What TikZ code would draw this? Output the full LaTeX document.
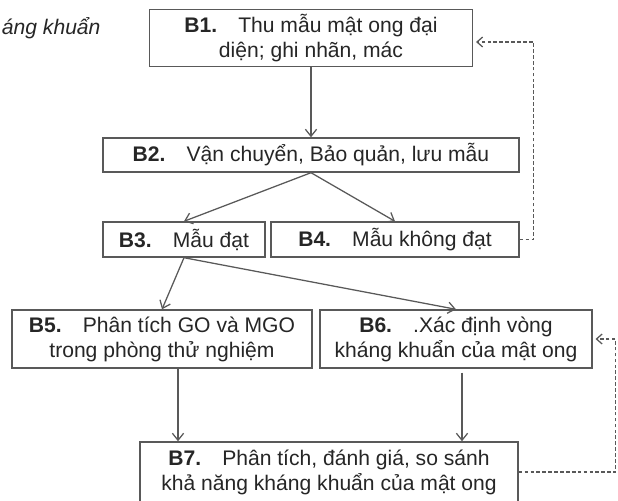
\documentclass[tikz,border=0pt]{standalone}
\usepackage{fontspec}
\setmainfont{Liberation Sans}
\usetikzlibrary{calc,arrows.meta}
\tikzset{
  buoc/.style={draw=black!65, line width=1pt, fill=white, align=center, text=black!85,
    inner sep=0pt, font=\fontsize{15}{17.8}\selectfont},
  muiten/.style={draw=black!65, line width=0.9pt, -{Straight Barb[length=5pt,width=8pt]}},
  vonglai/.style={draw=black!65, line width=0.9pt, dash pattern=on 2.6pt off 1.6pt,
    -{Straight Barb[length=4pt,width=7pt]}, shorten >=2pt}
}
\newcommand{\bb}[1]{\textbf{#1}\quad}

\begin{document}
\begin{tikzpicture}[x=0.025cm, y=-0.025cm]
\useasboundingbox (0,0) rectangle (618,500);
\node[anchor=west, text=black!85, font=\fontsize{15}{18}\selectfont\itshape] (tieude) at (-3,28) {áng khuẩn};
\node[buoc, minimum width=323*0.025cm, minimum height=57*0.025cm] (b1) at (311,38) {\bb{B1.}Thu mẫu mật ong đại\\diện; ghi nhãn,\ mác};
\node[buoc, minimum width=416*0.025cm, minimum height=34*0.025cm] (b2) at (311,155) {\bb{B2.}Vận chuyển, Bảo quản, lưu mẫu};
\node[buoc, minimum width=162*0.025cm, minimum height=35*0.025cm] (b3) at (184,239.5) {\bb{B3.}Mẫu đạt};
\node[buoc, minimum width=248*0.025cm, minimum height=35*0.025cm] (b4) at (395,239.5) {\bb{B4.}Mẫu không đạt};
\node[buoc, minimum width=300*0.025cm, minimum height=58*0.025cm] (b5) at (162,339) {\bb{B5.}Phân tích GO và MGO\\trong phòng thử nghiệm};
\node[buoc, minimum width=272*0.025cm, minimum height=58*0.025cm] (b6) at (456,339) {\bb{B6.}.Xác định vòng\\kháng khuẩn\ của mật ong};
\node[buoc, minimum width=378*0.025cm, minimum height=60*0.025cm] (b7) at (329,472) {\bb{B7.}Phân tích, đánh giá, so sánh\\khả năng kháng khuẩn\ của mật ong};

\draw[muiten] (b1) -- (b2);
\draw[muiten] (b2.south) -- (b3.north);
\draw[muiten] (b2.south) -- (b4.north);
\draw[muiten] (b3.south) -- (b5.north);
\draw[muiten] (b3.south) -- (b6.north);
\draw[muiten] ([xshift=0.4cm]b5.south) -- ([xshift=0.4cm]b5.south |- b7.north);
\draw[muiten] ([xshift=0.15cm,yshift=-0.1cm]b6.south) -- ([xshift=0.15cm]b6.south |- b7.north);
\draw[vonglai] (b4.east) -- ++(14,0) |- ([yshift=-0.1cm]b1.east);
\draw[vonglai] (b7.east) -- ++(97,0) |- (b6.east);
\end{tikzpicture}
\end{document}
